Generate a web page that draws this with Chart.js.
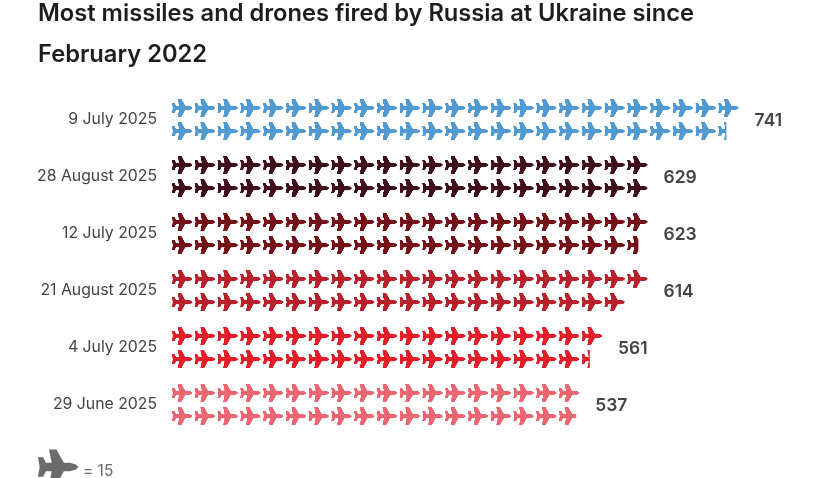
<!DOCTYPE html>
<html>
<head>
<meta charset="utf-8">
<title>Most missiles and drones</title>
<script src="https://cdn.jsdelivr.net/npm/chart.js@4/dist/chart.umd.min.js"></script>
<style>
  body { margin: 0; background: #fff; }
  canvas { display: block; }
</style>
</head>
<body>
<canvas id="missilesChart" width="813" height="478"></canvas>
<script>
// Data, one plane = 15
const categories = ["9 July 2025", "28 August 2025", "12 July 2025", "21 August 2025", "4 July 2025", "29 June 2025"];
const totals = [741, 629, 623, 614, 561, 537];
// Each day is split over two rows of planes
const topRow = [375, 315, 315, 315, 285, 270];
const bottomRow = [366, 314, 308, 299, 276, 267];
const unitsPerPlane = 15;
const rowColors = ["#5199d1", "#40101a", "#741018", "#b8202b", "#e31e28", "#eb6670"];

const planeColor = "#6b6b6b";
const textColor = "#444444";
const fontName = "Inter, sans-serif";
const categoryShare = 0.815;

// Plane pointing right, centred on 0,0, about 20 wide
function drawPlane(g, cx, cy, scale, color) {
  const pts = [
    [10.5, 0], [9, -1.4], [6, -2.2], [3, -2.2], [-0.8, -9], [-4.6, -9], [-3.2, -2.2],
    [-6.2, -2.2], [-7.6, -5], [-10.3, -5], [-9.4, 0], [-10.3, 5], [-7.6, 5], [-6.2, 2.2],
    [-3.2, 2.2], [-4.6, 9], [-0.8, 9], [3, 2.2], [6, 2.2], [9, 1.4],
  ];
  g.fillStyle = color;
  g.beginPath();
  pts.forEach((p, i) => {
    const x = cx + p[0] * scale;
    const y = cy + p[1] * scale;
    if (i === 0) g.moveTo(x, y);
    else g.lineTo(x, y);
  });
  g.closePath();
  g.fill();
}

// Pattern tile holds one plane for each of the two rows, lined up with the scales
const patternCache = {};
function planePattern(chart, index) {
  const xs = chart.scales.x;
  const ys = chart.scales.y;
  const pitchX = xs.getPixelForValue(unitsPerPlane) - xs.getPixelForValue(0);
  const pitchY = ys.getPixelForValue(1) - ys.getPixelForValue(0);
  // scales have no size yet on the first pass
  if (!(pitchX >= 1) || !(pitchY >= 1)) return "transparent";
  const key = index + "_" + pitchX + "_" + pitchY;
  if (patternCache[key]) return patternCache[key];

  const ss = 4;
  const tile = document.createElement("canvas");
  tile.width = Math.round(pitchX * ss);
  tile.height = Math.round(pitchY * ss);
  const g = tile.getContext("2d");
  g.scale(tile.width / pitchX, tile.height / pitchY);
  const rowGap = (pitchY * categoryShare) / 4;
  drawPlane(g, pitchX / 2 - 0.2, pitchY / 2 - rowGap, 1, rowColors[index]);
  drawPlane(g, pitchX / 2 - 0.2, pitchY / 2 + rowGap, 1, rowColors[index]);

  const pattern = chart.ctx.createPattern(tile, "repeat");
  pattern.setTransform(
    new DOMMatrix()
      .translate(xs.getPixelForValue(0), ys.getPixelForValue(0) - pitchY / 2)
      .scale(pitchX / tile.width, pitchY / tile.height)
  );
  patternCache[key] = pattern;
  return pattern;
}

// Totals beside the bars and the key under the chart
const extrasPlugin = {
  id: "extras",
  afterDraw(chart) {
    const g = chart.ctx;
    g.save();
    g.textBaseline = "middle";
    g.textAlign = "left";
    g.fillStyle = textColor;
    g.font = "600 17.5px " + fontName;
    totals.forEach((total, i) => {
      g.fillText(
        String(total),
        chart.scales.x.getPixelForValue(topRow[i]) + 14.5,
        chart.scales.y.getPixelForValue(i) + 1
      );
    });
    drawPlane(g, 58, 467, 1.95, planeColor);
    g.font = "400 15.5px " + fontName;
    g.fillText("= " + unitsPerPlane, 83, 471);
    g.restore();
  },
};

const barStyle = {
  backgroundColor: (c) => planePattern(c.chart, c.dataIndex),
  borderWidth: 0,
  barPercentage: 1,
  categoryPercentage: categoryShare,
};

new Chart(document.getElementById("missilesChart").getContext("2d"), {
  type: "bar",
  plugins: [extrasPlugin],
  data: {
    labels: categories,
    datasets: [
      { label: "Top row", data: topRow, ...barStyle },
      { label: "Bottom row", data: bottomRow, ...barStyle },
    ],
  },
  options: {
    indexAxis: "y",
    responsive: false,
    animation: false,
    events: [],
    layout: { padding: { left: 38, right: 35, top: 0, bottom: 45 } },
    scales: {
      x: { display: false, min: 0, max: 400 },
      y: {
        afterFit(scale) {
          scale.width = 133;
        },
        border: { display: false },
        grid: { display: false },
        ticks: { color: textColor, padding: 6, font: { family: fontName, size: 15.8 } },
      },
    },
    plugins: {
      legend: { display: false },
      tooltip: { enabled: false },
      title: {
        display: true,
        align: "start",
        text: ["Most missiles and drones fired by Russia at Ukraine since", "February 2022"],
        color: "#1d1d1d",
        font: { family: fontName, size: 23.7, weight: "600", lineHeight: 1.73 },
        padding: { top: -7, bottom: 16 },
      },
    },
  },
});
</script>
</body>
</html>
